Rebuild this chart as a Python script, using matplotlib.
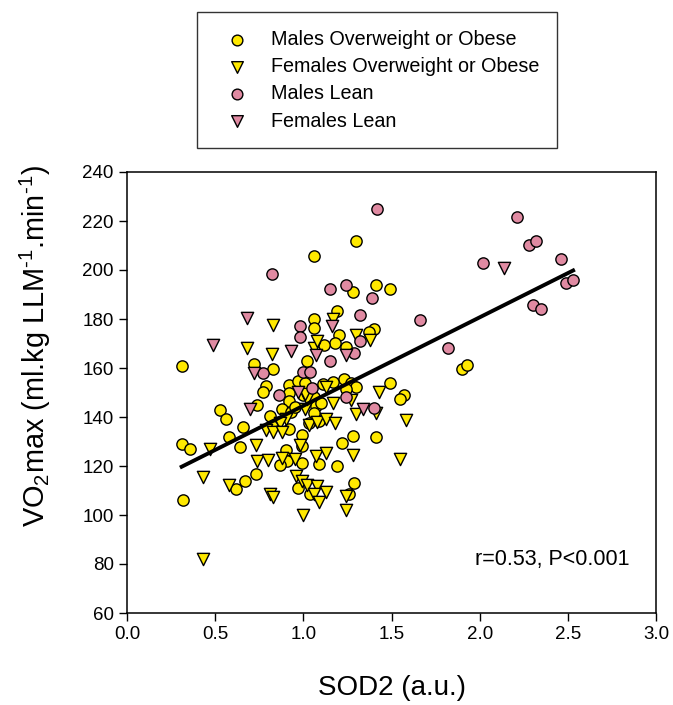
import numpy as np
import matplotlib
matplotlib.use('Agg')
import matplotlib.pyplot as plt

plt.rcParams['font.family'] = ['Liberation Sans', 'DejaVu Sans']
plt.rcParams['mathtext.default'] = 'regular'

# SOD2 (a.u.) vs VO2max, four groups
males_ow_x = [0.31, 0.31, 0.36, 0.32, 0.53, 0.56, 0.58, 0.64, 0.66, 0.62,
              0.67, 0.73, 0.72, 0.83, 0.79, 0.77, 0.74, 0.92, 0.92, 0.92,
              0.88, 0.81, 0.82, 0.92, 0.99, 0.93, 0.97, 1.01, 1.02, 1.06,
              1.06, 1.06, 1.30, 1.41, 1.49, 1.28, 1.19, 1.40, 1.37, 1.20,
              1.18, 1.12, 1.24, 1.90, 1.93, 1.49, 1.23, 1.27, 1.30, 1.24,
              1.17, 1.11, 1.57, 1.55, 1.06, 1.07, 1.10, 1.00, 0.95, 1.09,
              1.03, 1.28, 1.41, 1.22, 0.99, 0.90, 0.91, 0.87, 0.99, 1.09,
              1.19, 1.29, 1.26, 1.04, 0.97, 1.06]
males_ow_y = [161.0, 129.0, 127.0, 106.3, 142.7, 139.0, 131.7, 127.8, 136.0, 110.7,
              113.8, 116.9, 161.7, 159.7, 152.5, 150.3, 145.1, 153.0, 149.9, 146.5,
              143.3, 140.3, 136.2, 134.9, 132.6, 142.0, 154.5, 154.0, 163.0, 205.9,
              180.1, 176.4, 211.8, 194.0, 192.4, 191.0, 183.2, 176.0, 174.5, 173.5,
              170.2, 169.3, 168.5, 159.4, 161.1, 154.0, 155.5, 154.0, 152.1, 151.5,
              154.2, 153.5, 148.8, 147.4, 148.2, 144.5, 145.9, 148.8, 144.2, 138.3,
              137.6, 132.3, 132.0, 129.4, 128.1, 126.6, 122.0, 120.6, 121.4, 121.0,
              119.9, 113.0, 108.4, 108.4, 111.1, 141.6]

females_ow_x = [0.43, 0.47, 0.43, 0.58, 0.68, 0.83, 0.82, 1.06, 1.08, 1.17,
                1.30, 1.38, 1.13, 1.43, 1.17, 1.27, 1.30, 1.41, 1.58, 1.01,
                1.02, 1.03, 1.08, 1.13, 1.18, 0.90, 0.87, 0.79, 0.83, 0.88,
                0.73, 0.74, 0.80, 0.88, 0.95, 0.96, 0.99, 1.02, 1.08, 1.13,
                1.06, 1.09, 1.24, 1.24, 1.00, 0.81, 0.83, 1.07, 1.13, 1.28,
                1.55, 0.98, 1.01]
females_ow_y = [82.2, 127.0, 115.7, 112.2, 168.0, 177.5, 165.7, 168.3, 171.0, 180.0,
                173.3, 171.6, 152.4, 150.3, 145.9, 147.1, 141.4, 141.5, 138.7, 143.2,
                147.4, 136.9, 137.9, 139.0, 137.6, 139.0, 137.6, 134.5, 134.0, 133.8,
                128.6, 122.0, 122.5, 123.3, 122.7, 115.8, 113.8, 112.4, 111.8, 109.5,
                108.4, 105.4, 107.6, 102.0, 100.0, 108.4, 107.4, 124.0, 125.3, 124.6,
                122.8, 128.4, 149.2]

males_lean_x = [0.82, 0.77, 0.86, 0.98, 0.98, 1.00, 1.04, 1.05, 1.15, 1.15,
                1.24, 1.39, 1.32, 1.32, 1.29, 1.24, 1.40, 1.42, 1.66, 1.82,
                2.02, 2.21, 2.28, 2.32, 2.46, 2.30, 2.35, 2.49, 2.53]
males_lean_y = [198.4, 157.8, 149.0, 177.3, 172.6, 158.4, 158.4, 152.0, 163.0, 192.4,
                194.0, 188.7, 181.8, 171.2, 166.0, 148.0, 143.5, 225.0, 179.4, 168.0,
                202.7, 221.7, 210.4, 212.0, 204.3, 185.6, 183.9, 194.8, 196.1]

females_lean_x = [0.49, 0.68, 0.72, 0.70, 0.93, 0.97, 1.07, 1.16, 1.24, 1.34,
                  2.14]
females_lean_y = [169.3, 180.4, 158.0, 143.3, 166.9, 150.3, 165.5, 177.1, 165.5, 143.3,
                  200.9]

# regression line end points
fit_x = [0.31, 2.53]
fit_y = [119.7, 199.8]
stat_text = 'r=0.53, P<0.001'

yellow = '#FFE900'
pink = '#E08AA2'

fig = plt.figure(figsize=(6.73, 7.05), dpi=100)
ax = fig.add_axes([127/673, 1-613/705, (656-127)/673, (613-172)/705])

s_circ = 66
s_tri = 78
lw = 1.0
h1 = ax.scatter(males_ow_x, males_ow_y, s=s_circ, marker='o', facecolor=yellow,
                edgecolor='black', linewidth=lw, zorder=3)
h2 = ax.scatter(females_ow_x, females_ow_y, s=s_tri, marker='v', facecolor=yellow,
                edgecolor='black', linewidth=lw, zorder=3)
h3 = ax.scatter(males_lean_x, males_lean_y, s=s_circ, marker='o', facecolor=pink,
                edgecolor='black', linewidth=lw, zorder=3)
h4 = ax.scatter(females_lean_x, females_lean_y, s=s_tri, marker='v', facecolor=pink,
                edgecolor='black', linewidth=lw, zorder=3)

ax.plot(fit_x, fit_y, color='black', linewidth=2.8, zorder=4)

ax.set_xlim(0, 3.0)
ax.set_ylim(60, 240)
ax.set_xticks(np.arange(0, 3.01, 0.5))
ax.set_xticklabels(['%.1f' % v for v in np.arange(0, 3.01, 0.5)])
ax.set_yticks(np.arange(60, 241, 20))
ax.tick_params(direction='out', length=6, width=1, labelsize=13.5,
               top=False, right=False)
for sp in ax.spines.values():
    sp.set_linewidth(1.1)

ax.set_xlabel('SOD2 (a.u.)', fontsize=20, labelpad=23)
ax.set_ylabel('VO$_2$max (ml.kg LLM$^{\u2010 1}$.min$^{\u2010 1}$)', fontsize=20.8)
ax.yaxis.set_label_coords(-0.14, 0.605)

ax.text(0.95, 0.122, stat_text, transform=ax.transAxes, ha='right', va='center',
        fontsize=15.5)

leg = fig.legend([h1, h2, h3, h4],
                 ['Males Overweight or Obese', 'Females Overweight or Obese',
                  'Males Lean', 'Females Lean'],
                 loc='upper left', bbox_to_anchor=(197/673, 1-12/705),
                 fontsize=14.2, frameon=True, fancybox=False, edgecolor='black',
                 borderpad=0.9, labelspacing=0.42, handlelength=2.3,
                 handletextpad=0.55, borderaxespad=0, markerscale=0.95)
leg.get_frame().set_linewidth(1.0)

fig.savefig('out.png', dpi=100)
